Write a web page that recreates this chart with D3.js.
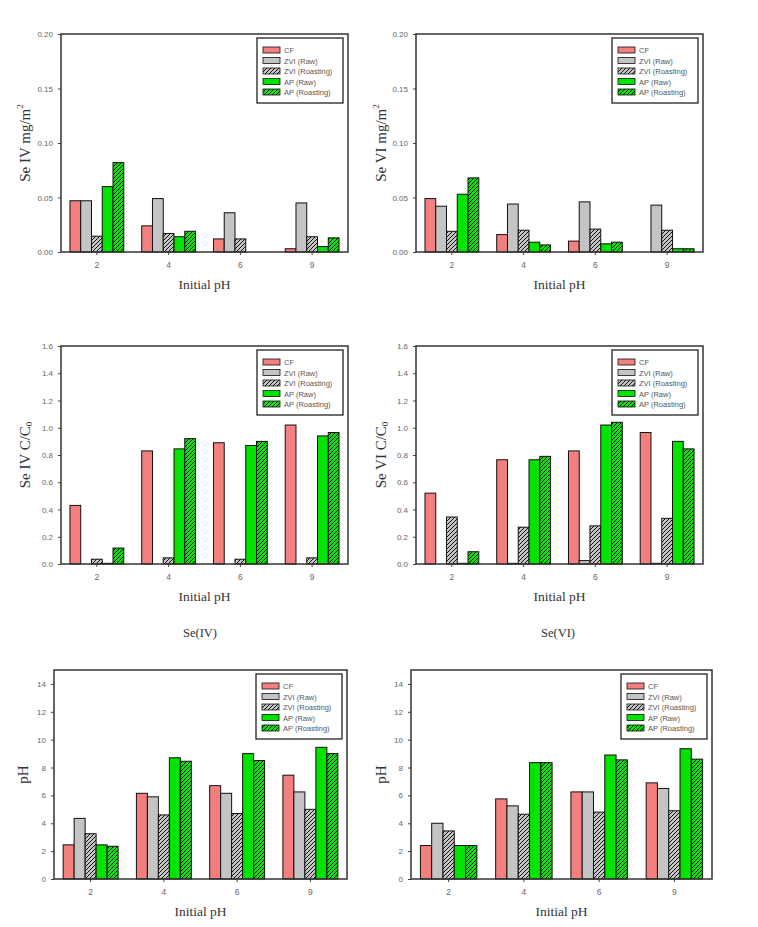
<!DOCTYPE html>
<html><head><meta charset="utf-8">
<script src="https://cdn.jsdelivr.net/npm/d3@7"></script>
<style>body{margin:0;background:#fff}svg{display:block}</style>
</head><body>
<svg id="chart" width="758" height="927"></svg>
<script>
const categories = ["2", "4", "6", "9"];
const seriesNames = ["CF", "ZVI (Raw)", "ZVI (Roasting)", "AP (Raw)", "AP (Roasting)"];

// values per series, in category order 2,4,6,9
const seIVmg = [
  [0.047, 0.024, 0.012, 0.003],
  [0.047, 0.049, 0.036, 0.045],
  [0.0145, 0.017, 0.012, 0.014],
  [0.060, 0.014, 0.0, 0.005],
  [0.082, 0.019, 0.0, 0.013]
];
const seVImg = [
  [0.049, 0.016, 0.010, 0.0],
  [0.042, 0.044, 0.046, 0.043],
  [0.019, 0.020, 0.021, 0.020],
  [0.053, 0.009, 0.0075, 0.003],
  [0.068, 0.0065, 0.009, 0.003]
];
const seIVcc = [
  [0.43, 0.83, 0.89, 1.02],
  [0.0, 0.0, 0.0, 0.0],
  [0.035, 0.045, 0.035, 0.045],
  [0.005, 0.845, 0.87, 0.94],
  [0.117, 0.92, 0.90, 0.965]
];
const seVIcc = [
  [0.52, 0.765, 0.83, 0.965],
  [0.0, 0.005, 0.025, 0.005],
  [0.345, 0.27, 0.28, 0.335],
  [0.005, 0.765, 1.02, 0.90],
  [0.09, 0.79, 1.04, 0.845]
];
const pHIV = [
  [2.45, 6.15, 6.7, 7.45],
  [4.35, 5.9, 6.15, 6.25],
  [3.25, 4.6, 4.7, 5.0],
  [2.45, 8.7, 9.0, 9.45],
  [2.35, 8.45, 8.5, 9.0]
];
const pHVI = [
  [2.4, 5.75, 6.25, 6.9],
  [4.0, 5.25, 6.25, 6.5],
  [3.45, 4.65, 4.8, 4.9],
  [2.4, 8.35, 8.9, 9.35],
  [2.4, 8.35, 8.55, 8.6]
];
const ticksMg = [0, 0.05, 0.10, 0.15, 0.20];
const ticksCC = [0, 0.2, 0.4, 0.6, 0.8, 1.0, 1.2, 1.4, 1.6];
const ticksPH = [0, 2, 4, 6, 8, 10, 12, 14];

const svg = d3.select("#chart");
const defs = svg.append("defs");
function hatch(id, bg) {
  const p = defs.append("pattern").attr("id", id).attr("patternUnits", "userSpaceOnUse")
    .attr("width", 4).attr("height", 4);
  p.append("rect").attr("width", 4).attr("height", 4).attr("fill", bg);
  p.append("path").attr("d", "M-1,1 l2,-2 M0,4 l4,-4 M3,5 l2,-2")
    .attr("stroke", "#111").attr("stroke-width", 1);
}
hatch("hGray", "#c4c4c4");
hatch("hGreen", "#00e400");
const fills = ["#f47f7f", "#c4c4c4", "url(#hGray)", "#00e400", "url(#hGreen)"];

const serif = "'Liberation Serif','Times New Roman',serif";
const sans = "'Liberation Sans',Arial,sans-serif";

const panels = [
  {data: seIVmg, l: 61, r: 348, t: 34, b: 252, max: 0.2, ticks: ticksMg, fmt: ".2f", lab: ["Se IV mg/m", "2", "sup"], lx: 27},
  {data: seVImg, l: 416, r: 703, t: 34, b: 252, max: 0.2, ticks: ticksMg, fmt: ".2f", lab: ["Se VI mg/m", "2", "sup"], lx: 383},
  {data: seIVcc, l: 61, r: 348, t: 346, b: 564, max: 1.6, ticks: ticksCC, fmt: ".1f", lab: ["Se IV C/C", "0", "sub"], lx: 27, cap: "Se(IV)", cx: 200},
  {data: seVIcc, l: 416, r: 703, t: 346, b: 564, max: 1.6, ticks: ticksCC, fmt: ".1f", lab: ["Se VI C/C", "0", "sub"], lx: 383, cap: "Se(VI)", cx: 558},
  {data: pHIV, l: 54, r: 347, t: 670, b: 879, max: 15, ticks: ticksPH, fmt: "d", lab: ["pH"], lx: 25},
  {data: pHVI, l: 411, r: 712, t: 670, b: 879, max: 15, ticks: ticksPH, fmt: "d", lab: ["pH"], lx: 383}
];

panels.forEach(p => {
  const g = svg.append("g");
  const x0 = d3.scaleBand().domain(categories).range([p.l, p.r]).paddingInner(0.25).paddingOuter(0.125);
  const x1 = d3.scaleBand().domain(d3.range(seriesNames.length)).range([0, x0.bandwidth()]);
  const y = d3.scaleLinear().domain([0, p.max]).range([p.b, p.t]);

  // bars
  p.data.forEach((vals, si) => {
    g.selectAll(null).data(vals.map((v, ci) => ({v, c: categories[ci]})).filter(d => d.v > 0))
      .enter().append("rect")
      .attr("x", d => x0(d.c) + x1(si))
      .attr("y", d => y(d.v))
      .attr("width", x1.bandwidth())
      .attr("height", d => y(0) - y(d.v))
      .attr("fill", fills[si])
      .attr("stroke", "#111").attr("stroke-width", 1);
  });

  // y axis
  const ya = g.append("g").attr("transform", `translate(${p.l},0)`)
    .call(d3.axisLeft(y).tickValues(p.ticks).tickFormat(d3.format(p.fmt)).tickSize(3).tickPadding(5));
  ya.select(".domain").remove();
  ya.selectAll("line").attr("stroke", "#444");
  ya.selectAll("text").attr("font-family", sans).attr("font-size", 8).attr("fill", "#666");

  // x axis
  const xa = g.append("g").attr("transform", `translate(0,${p.b})`)
    .call(d3.axisBottom(x0).tickSize(3).tickPadding(7));
  xa.select(".domain").remove();
  xa.selectAll("line").attr("stroke", "#444");
  xa.selectAll("text").attr("font-family", sans).attr("font-size", 8.5).attr("fill", "#666");

  // frame
  g.append("rect").attr("x", p.l).attr("y", p.t).attr("width", p.r - p.l).attr("height", p.b - p.t)
    .attr("fill", "none").attr("stroke", "#333").attr("stroke-width", 1.5);

  // legend
  const lw = 86, lh = 65;
  const lgx = p.r - 5 - lw, lgy = p.t + 4;
  const lg = g.append("g").attr("transform", `translate(${lgx},${lgy})`);
  lg.append("rect").attr("width", lw).attr("height", lh).attr("fill", "#fff")
    .attr("stroke", "#222").attr("stroke-width", 1.3);
  seriesNames.forEach((s, i) => {
    const yy = 9 + i * 10.5;
    lg.append("rect").attr("x", 6).attr("y", yy).attr("width", 17).attr("height", 6)
      .attr("fill", fills[i]).attr("stroke", "#111").attr("stroke-width", 0.8);
    lg.append("text").attr("x", 27).attr("y", yy + 6).text(s)
      .attr("font-family", sans).attr("font-size", 7.5).attr("fill", "#555");
  });

  // y label
  const cy = (p.t + p.b) / 2;
  const yl = g.append("text").attr("transform", `translate(${p.lx},${cy}) rotate(-90)`)
    .attr("text-anchor", "middle").attr("dominant-baseline", "middle")
    .attr("font-family", serif).attr("font-size", 15).attr("fill", "#333");
  yl.append("tspan").text(p.lab[0]);
  if (p.lab[1]) {
    yl.append("tspan").text(p.lab[1]).attr("font-size", 9)
      .attr("dy", p.lab[2] === "sup" ? -6 : 3);
  }

  // x label
  g.append("text").attr("x", (p.l + p.r) / 2).attr("y", p.b + 37)
    .attr("text-anchor", "middle").attr("font-family", serif).attr("font-size", 13.5)
    .attr("fill", "#333").text("Initial pH");

  if (p.cap) {
    g.append("text").attr("x", p.cx).attr("y", 637).attr("text-anchor", "middle")
      .attr("font-family", serif).attr("font-size", 12.5).attr("fill", "#333").text(p.cap);
  }
});
</script>
</body></html>
